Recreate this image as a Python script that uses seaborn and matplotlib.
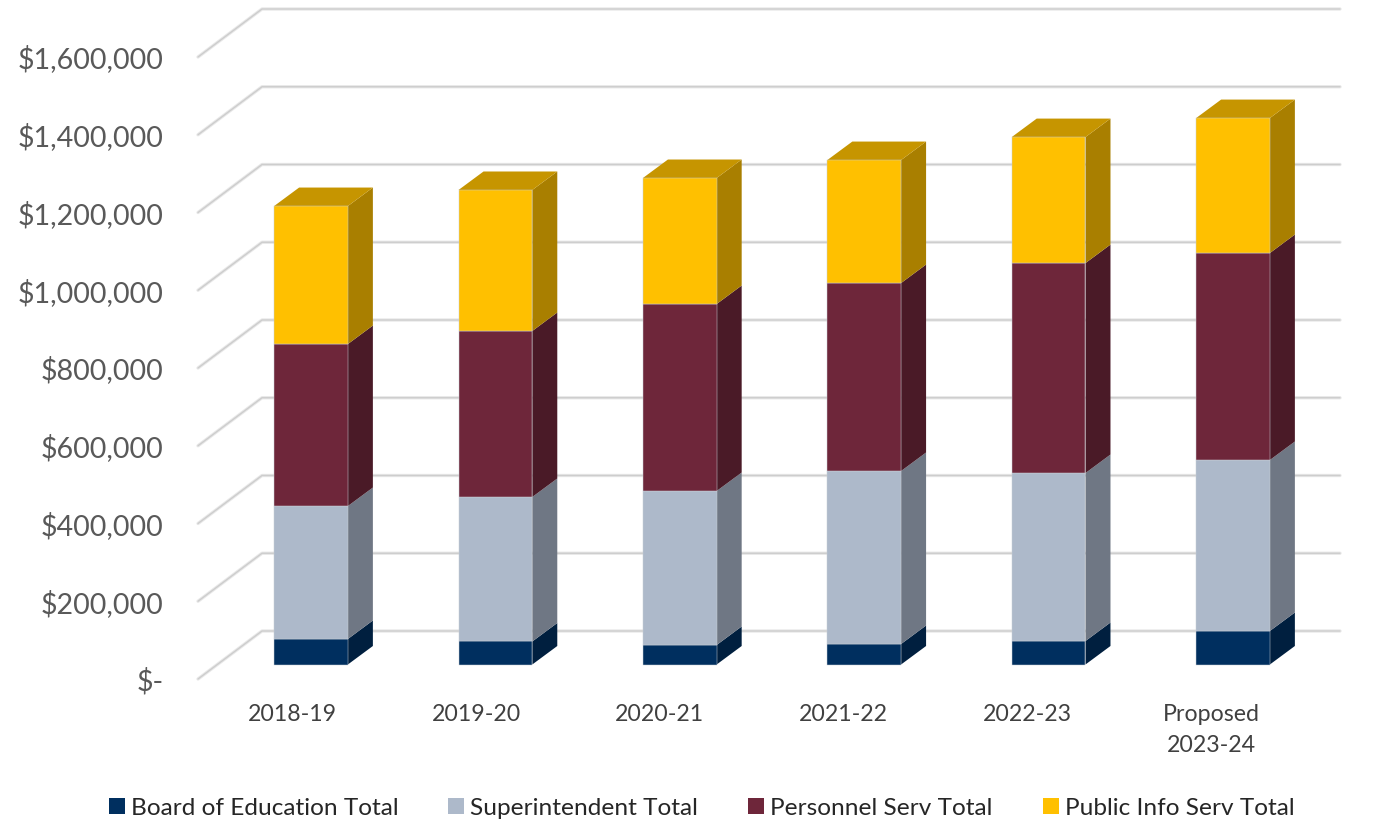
import matplotlib
matplotlib.use("Agg")
import matplotlib.pyplot as plt
import pandas as pd
import seaborn as sns

years = ["2018-19", "2019-20", "2020-21", "2021-22", "2022-23", "Proposed\n2023-24"]
board = [65600, 59200, 50200, 52700, 60400, 86200]
superintendent = [342000, 371700, 396100, 445000, 432100, 439800]
personnel = [416700, 427000, 481000, 483500, 540100, 532400]
public_info = [355000, 362700, 324100, 316400, 324100, 347200]
series_names = ["Board of Education Total", "Superintendent Total", "Personnel Serv Total", "Public Info Serv Total"]
series_values = [board, superintendent, personnel, public_info]
front_colors = ["#002F5F", "#ADB9CA", "#6E263A", "#FFC000"]
side_colors = ["#001F3F", "#6F7784", "#4A1A27", "#A97F00"]
top_color = "#C69500"
y_ticks = [0, 200000, 400000, 600000, 800000, 1000000, 1200000, 1400000, 1600000]
y_labels = ["$-", "$200,000", "$400,000", "$600,000", "$800,000", "$1,000,000", "$1,200,000", "$1,400,000", "$1,600,000"]

W, H = 1378, 821
PX_PER_CAT = 184.4
LABEL_PX_PER_CAT = 183.7
VAL_PER_PX = 200000 / 77.75
LEFT = 198
BAR_BASE = 664.5
FLOOR = 679
BAR_C0 = 311
LABEL_C0 = 292.5
BAR_W = 0.40
BAR_DX, BAR_DY = 25 / PX_PER_CAT, 18.5 * VAL_PER_PX
WALL_DX, WALL_DY = 64 / LABEL_PX_PER_CAT, 48 * VAL_PER_PX
WALL_END = (1340 - LABEL_C0) / LABEL_PX_PER_CAT

sns.set_theme(style="white")
plt.rcParams["font.family"] = ["Lato", "DejaVu Sans"]

fig = plt.figure(figsize=(W / 100, H / 100), dpi=100)
wall = fig.add_axes([LEFT / W, (H - FLOOR) / H, (W - LEFT) / W, FLOOR / H])
ax = fig.add_axes([LEFT / W, (H - BAR_BASE) / H, (W - LEFT) / W, BAR_BASE / H])
ax.patch.set_alpha(0)

# wall / floor gridlines
wall.set_xlim((LEFT - LABEL_C0) / LABEL_PX_PER_CAT, (W - LABEL_C0) / LABEL_PX_PER_CAT)
wall.set_ylim(0, FLOOR * VAL_PER_PX)
x_front = wall.get_xlim()[0]
x_back = x_front + WALL_DX
for v in y_ticks:
    xs = [x_front, x_back, WALL_END]
    ys = [v, v + WALL_DY, v + WALL_DY]
    wall.plot(xs, ys, color="#E8E8E8", lw=2.4, solid_capstyle="round", solid_joinstyle="round", clip_on=False)
    wall.plot(xs, ys, color="#CDCDCD", lw=1.0, solid_capstyle="round", solid_joinstyle="round", clip_on=False)
wall.set_yticks(y_ticks)
wall.set_yticklabels(y_labels, fontsize=20.6, color="#595959")
wall.set_xticks(range(len(years)))
wall.set_xticklabels(years, fontsize=16.7, color="#404040", linespacing=1.58, va="top")
wall.tick_params(axis="y", length=0, pad=25)
wall.tick_params(axis="x", length=0, pad=18)
sns.despine(ax=wall, left=True, bottom=True)

# stacked bars
bottoms = [0] * len(years)
for name, vals, fc, sc in zip(series_names, series_values, front_colors, side_colors):
    df = pd.DataFrame({"year": years, "value": vals})
    sns.barplot(data=df, x="year", y="value", color=fc, saturation=1, width=BAR_W,
                bottom=bottoms, ax=ax, label=name, edgecolor="#C9CED6", linewidth=0.35,
                errorbar=None, zorder=3)
    tops = [b + v for b, v in zip(bottoms, vals)]
    for i, (b, t) in enumerate(zip(bottoms, tops)):
        xr = i + BAR_W / 2
        ax.fill([xr, xr + BAR_DX, xr + BAR_DX, xr], [b, b + BAR_DY, t + BAR_DY, t],
                color=sc, lw=0, zorder=2)
    bottoms = tops
for i, t in enumerate(bottoms):
    xl, xr = i - BAR_W / 2, i + BAR_W / 2
    ax.fill([xl, xr, xr + BAR_DX, xl + BAR_DX], [t, t, t + BAR_DY, t + BAR_DY],
            color=top_color, lw=0, zorder=2)

ax.set_xlim((LEFT - BAR_C0) / PX_PER_CAT, (W - BAR_C0) / PX_PER_CAT)
ax.set_ylim(0, BAR_BASE * VAL_PER_PX)
ax.set_xlabel("")
ax.set_ylabel("")
ax.set_xticks([])
ax.set_yticks([])
sns.despine(ax=ax, left=True, bottom=True)
for patch in ax.patches:
    patch.set_clip_on(False)

fs = 17.6
px = fs / 0.72
handles, labels = ax.get_legend_handles_labels()
if ax.get_legend() is not None:
    ax.get_legend().remove()
leg = fig.legend(handles, labels, loc="center", bbox_to_anchor=(701.5 / W, (H - 808) / H),
                 ncol=4, frameon=False, fontsize=fs, handlelength=16 / px, handleheight=16 / px,
                 handletextpad=6 / px, columnspacing=50 / px, borderpad=0, borderaxespad=0)
for t in leg.get_texts():
    t.set_color("#262626")
for h in leg.legend_handles:
    h.set_edgecolor("none")

fig.savefig("out.png", dpi=100, facecolor="white")
